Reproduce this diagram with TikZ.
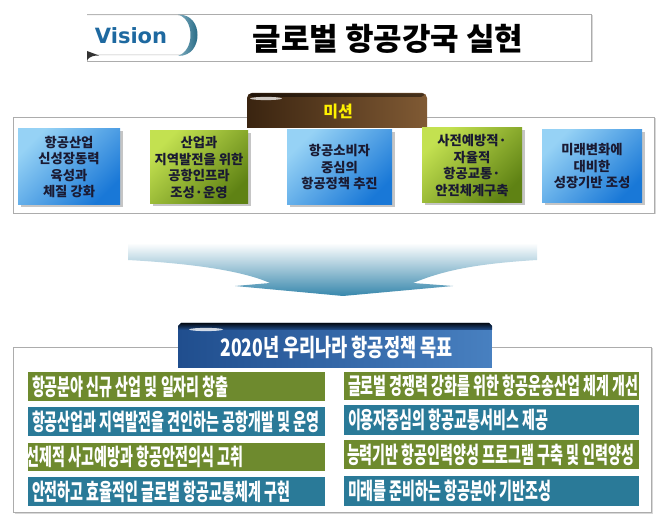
\documentclass[tikz,border=0pt]{standalone}
\usepackage{fontspec}
\usepackage{graphicx}
\usetikzlibrary{shadows}
\newfontfamily\kr{Noto Sans CJK KR}
\newfontfamily\vis{DejaVu Sans}
\definecolor{mbla}{RGB}{150,210,245}
\definecolor{mblb}{RGB}{25,120,215}
\definecolor{mgra}{RGB}{195,225,80}
\definecolor{mgrb}{RGB}{95,130,20}
\definecolor{gg}{RGB}{110,138,46}
\definecolor{gb}{RGB}{42,122,152}
\definecolor{browna}{RGB}{58,36,16}
\definecolor{brownb}{RGB}{128,90,52}
\definecolor{navya}{RGB}{32,78,142}
\definecolor{navyb}{RGB}{72,128,192}
\definecolor{visc}{RGB}{30,105,160}
\definecolor{tealc}{RGB}{45,120,150}
\definecolor{mtext}{RGB}{26,26,50}
\definecolor{arrowm}{RGB}{175,210,225}
\definecolor{arrowb}{RGB}{55,135,172}
\newcommand\gs[1]{\scalebox{0.61}[1]{#1}}
\tikzset{
  frame/.style={draw=gray!65, line width=0.8pt, fill=white, inner sep=0pt, outer sep=0pt,
    drop shadow={opacity=0.3, shadow xshift=1.5pt, shadow yshift=-1.5pt}},
  mbox/.style={inner sep=0pt, outer sep=0pt, align=center,
    font=\kr\bfseries\fontsize{13.3}{16.5}\selectfont, text=mtext,
    drop shadow={opacity=0.45, shadow xshift=2.5pt, shadow yshift=-2.5pt}},
  mblue/.style={mbox, top color=mbla, bottom color=mblb, shading angle=45},
  mgreen/.style={mbox, top color=mgra, bottom color=mgrb, shading angle=45},
  gbar/.style={inner sep=0pt, outer sep=0pt, anchor=north west},
  gtext/.style={inner sep=0pt, outer sep=0pt, anchor=west, text=white,
    font=\kr\bfseries\fontsize{23}{26}\selectfont},
}
\begin{document}
\begin{tikzpicture}[x=1pt,y=-1pt]
\useasboundingbox (0,0) rectangle (664,526);
\fill[white] (0,0) rectangle (664,526);

% ---------- Vision banner ----------
\node[frame, minimum width=504pt, minimum height=47pt, anchor=north west] (vframe) at (87,14) {};
\path[fill=white, draw=gray!55, line width=0.5pt]
  (87,15) -- (178,15) .. controls (190,15) and (196,25) .. (196,35)
  .. controls (196,45) and (190,55) .. (178,55) -- (87,55);
\shade[left color=tealc!60, right color=tealc!90!black]
  (178,14.5) .. controls (192,14.5) and (197.5,25) .. (197.5,35)
  .. controls (197.5,45) and (192,56) .. (178,56)
  .. controls (186,53) and (190.5,45) .. (190.5,35)
  .. controls (190.5,25) and (186,17) .. (178,14.5) -- cycle;
\fill[black!80] (87,51) -- (87,60) .. controls (90,56.5) and (93,55.5) .. (99,55.5) -- cycle;
\node[inner sep=0pt, text=visc, font=\vis\bfseries\fontsize{21}{24}\selectfont] (vis) at (131,35.5) {Vision};
\node[inner sep=0pt, font=\kr\bfseries\fontsize{31}{34}\selectfont] (vtitle) at (388,39) {글로벌 항공강국 실현};

% ---------- Mission ----------
\node[frame, minimum width=641pt, minimum height=96pt, anchor=north west] (mframe) at (13,117) {};
\shade[left color=browna, right color=brownb]
  (247,128) [rounded corners=5pt]-- (247,93) -- (427,93) [sharp corners]-- (427,128) -- cycle;
\fill[black, opacity=0.45, rounded corners=2pt] (249,93.3) -- (425,93.3) -- (423,97) -- (251,97) -- cycle;
\fill[white, opacity=0.75] (266,98.5) ellipse[x radius=16pt, y radius=1.6pt];
\node[inner sep=0pt, text=yellow, font=\kr\bfseries\fontsize{16}{18}\selectfont] (mtitle) at (338,112) {미션};

\node[mblue, minimum width=102pt, minimum height=76pt] (m1) at (69,167) {항공산업\\신성장동력\\육성과\\체질 강화};
\node[mgreen, minimum width=98pt, minimum height=73pt] (m2) at (199,167.5) {산업과\\지역발전을 위한\\공항인프라\\조성·운영};
\node[mblue, minimum width=105pt, minimum height=75pt] (m3) at (339.5,167.5) {항공소비자\\중심의\\항공정책 추진};
\node[mgreen, minimum width=100pt, minimum height=75pt] (m4) at (472,165.5) {사전예방적·\\자율적\\항공교통·\\안전체계구축};
\node[mblue, minimum width=100pt, minimum height=73pt] (m5) at (592,166.5) {미래변화에\\대비한\\성장기반 조성};

% ---------- Arrow ----------
\shade[top color=white, middle color=arrowm, bottom color=arrowb]
  (128,243) -- (537,243) -- (537,260)
  .. controls (470,264) and (440,272) .. (413,283) -- (453,286) -- (343,296) -- (235,286) -- (270,283)
  .. controls (245,272) and (200,264) .. (128,260) -- cycle;

% ---------- Goals ----------
\node[frame, minimum width=638pt, minimum height=165pt, anchor=north west] (gframe) at (13,347) {};
\shade[left color=navya, right color=navyb]
  (178,368) -- (178,326) -- (181,323) -- (489,323) -- (492,326) -- (492,368) -- cycle;
\shade[top color=black!85!navya, bottom color=navya] (178,326) -- (181,323) -- (489,323) -- (492,326) -- (492,330) -- (178,330) -- cycle;
\fill[white, opacity=0.8] (206,329.5) ellipse[x radius=17pt, y radius=1.6pt];
\node[inner sep=0pt, text=white, font=\kr\bfseries\fontsize{24}{26}\selectfont] (gtitle) at (336.5,347) {\scalebox{0.73}[1]{2020년 우리나라 항공정책 목표}};

\node[gbar, fill=gg, minimum width=297pt, minimum height=29pt] (g1) at (28,372) {};
\node[gbar, fill=gb, minimum width=297pt, minimum height=29pt] (g2) at (28,407) {};
\node[gbar, fill=gg, minimum width=297pt, minimum height=28pt] (g3) at (28,443) {};
\node[gbar, fill=gb, minimum width=297pt, minimum height=29pt] (g4) at (28,477) {};
\node[gbar, fill=gg, minimum width=295pt, minimum height=28pt] (h1) at (344,372) {};
\node[gbar, fill=gb, minimum width=295pt, minimum height=30pt] (h2) at (344,405) {};
\node[gbar, fill=gg, minimum width=295pt, minimum height=29pt] (h3) at (344,440) {};
\node[gbar, fill=gb, minimum width=295pt, minimum height=30pt] (h4) at (344,476) {};

\node[gtext] (g1t) at ([xshift=4pt]g1.west) {\gs{항공분야 신규 산업 및 일자리 창출}};
\node[gtext] (g2t) at ([xshift=4pt]g2.west) {\gs{항공산업과 지역발전을 견인하는 공항개발 및 운영}};
\node[gtext] (g3t) at ([xshift=-1pt]g3.west) {\gs{선제적 사고예방과 항공안전의식 고취}};
\node[gtext] (g4t) at ([xshift=4pt]g4.west) {\gs{안전하고 효율적인 글로벌 항공교통체계 구현}};
\node[gtext] (h1t) at ([xshift=4pt]h1.west) {\gs{글로벌 경쟁력 강화를 위한 항공운송산업 체계 개선}};
\node[gtext] (h2t) at ([xshift=4pt]h2.west) {\gs{이용자중심의 항공교통서비스 제공}};
\node[gtext] (h3t) at ([xshift=3pt]h3.west) {\gs{능력기반 항공인력양성 프로그램 구축 및 인력양성}};
\node[gtext] (h4t) at ([xshift=4pt]h4.west) {\gs{미래를 준비하는 항공분야 기반조성}};
\end{tikzpicture}
\end{document}
